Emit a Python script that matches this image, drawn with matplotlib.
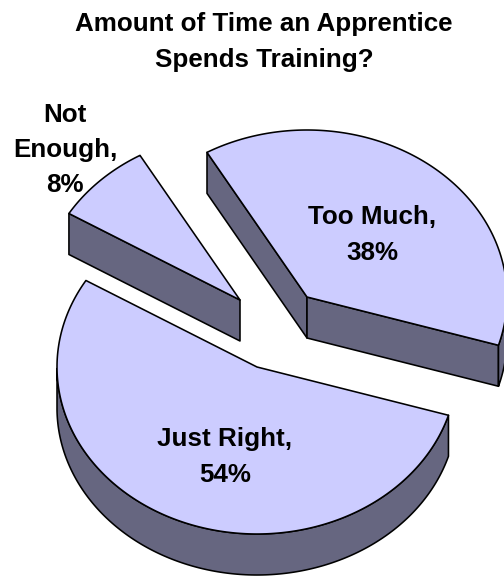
import numpy as np
import matplotlib
matplotlib.use("Agg")
import matplotlib.pyplot as plt
from matplotlib.patches import Polygon

# Data
categories = ["Too Much", "Just Right", "Not Enough"]
percentages = [38, 54, 8]
label_texts = ["Too Much,\n38%", "Just Right,\n54%", "Not\nEnough,\n8%"]
title_text = "Amount of Time an Apprentice\nSpends Training?"

# Layout and style (pixel space of the 504x576 figure)
START_ANGLE = 120.0
RX, RY, DEPTH = 200.0, 167.0, 41.0
APEXES = [(307, 297), (257, 367), (240, 300)]
LABEL_POS = [(372, 235), (225, 457), (65, 150)]
TITLE_POS = (264, 42)
TOP = "#CCCCFF"
SIDE = "#666680"
LW = 1.15
FONT = "Liberation Sans"
FONT_SIZE = 18.7
LINE_SPACING = 1.58

fig = plt.figure(figsize=(5.04, 5.76), dpi=100, facecolor="white")
ax = fig.add_axes([0, 0, 1, 1])
ax.set_xlim(0, 504)
ax.set_ylim(576, 0)
ax.axis("off")


def rim(apex, deg):
    t = np.radians(deg)
    return np.column_stack([apex[0] + RX * np.cos(t), apex[1] - RY * np.sin(t)])


def draw_side(pts):
    lower = pts[::-1] + np.array([0, DEPTH])
    ax.add_patch(Polygon(np.vstack([pts, lower]), closed=True, fc=SIDE, ec="black",
                         lw=LW, joinstyle="round"))


start = START_ANGLE
for value, apex in zip(percentages, APEXES):
    end = start - 360.0 * value / 100.0
    angles = np.linspace(start, end, 240)
    arc = rim(apex, angles)
    a = np.array([apex], dtype=float)

    # Radial walls facing the viewer
    if np.cos(np.radians(start)) < 0:
        draw_side(np.vstack([a, rim(apex, np.array([start]))]))
    if np.cos(np.radians(end)) > 0:
        draw_side(np.vstack([a, rim(apex, np.array([end]))]))

    # Outer rim, only where it faces the viewer
    front = angles[np.sin(np.radians(angles)) <= 0]
    if front.size > 1:
        draw_side(rim(apex, front))

    # Top face
    ax.add_patch(Polygon(np.vstack([a, arc]), closed=True, fc=TOP, ec="black",
                         lw=LW, joinstyle="round"))
    start = end

for text, (x, y) in zip(label_texts, LABEL_POS):
    ax.text(x, y, text, ha="center", va="center", family=FONT, weight="bold",
            fontsize=FONT_SIZE, linespacing=LINE_SPACING, color="black")

ax.text(TITLE_POS[0], TITLE_POS[1], title_text, ha="center", va="center", family=FONT,
        weight="bold", fontsize=FONT_SIZE, linespacing=LINE_SPACING, color="black")

fig.savefig("out.png", dpi=100, facecolor="white")
